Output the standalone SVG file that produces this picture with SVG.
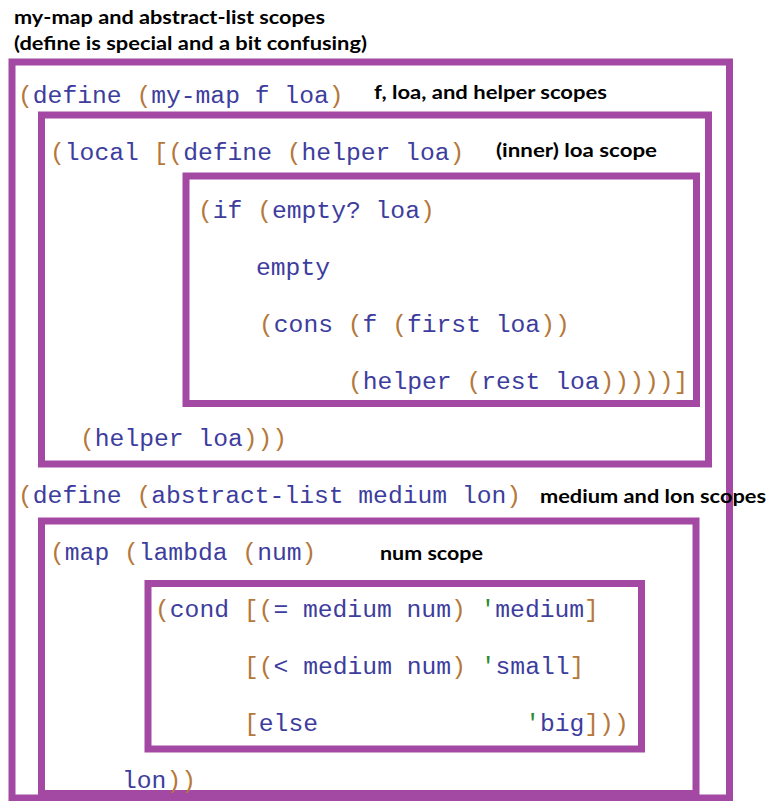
<svg xmlns="http://www.w3.org/2000/svg" width="769" height="801" viewBox="0 0 769 801">
<style>
  .box { fill: none; stroke: #a349a4; stroke-width: 7; }
  .code { font-family: "Liberation Mono", "Courier New", monospace; font-size: 24.67px; fill: #3d3d9e; white-space: pre; }
  .p { fill: #b5783a; }
  .q { fill: #2e8b2e; }
  .lbl { font-family: Lato, "Open Sans", "Liberation Sans", sans-serif; font-weight: bold; font-size: 18px; fill: #000; }
</style>
<rect width="769" height="801" fill="#fff"/>

<g id="title">
  <text class="lbl" x="14" y="24" textLength="311" lengthAdjust="spacingAndGlyphs">my-map and abstract-list scopes</text>
  <text class="lbl" x="14" y="50" textLength="353" lengthAdjust="spacingAndGlyphs">(define is special and a bit confusing)</text>
</g>

<g id="scope-my-map">
  <rect class="box" x="12" y="62" width="717.5" height="736"/>
  <text class="code" x="18" y="103"><tspan class="p">(</tspan>define <tspan class="p">(</tspan>my-map f loa<tspan class="p">)</tspan></text>
  <text class="lbl" x="374" y="99" textLength="233" lengthAdjust="spacingAndGlyphs">f, loa, and helper scopes</text>
  <text class="code" x="18" y="503"><tspan class="p">(</tspan>define <tspan class="p">(</tspan>abstract-list medium lon<tspan class="p">)</tspan></text>
  <text class="lbl" x="540" y="503" textLength="226" lengthAdjust="spacingAndGlyphs">medium and lon scopes</text>
</g>

<g id="scope-local">
  <rect class="box" x="41.5" y="115" width="667" height="349"/>
  <text class="code" x="50" y="160"><tspan class="p">(</tspan>local <tspan class="p">[(</tspan>define <tspan class="p">(</tspan>helper loa<tspan class="p">)</tspan></text>
  <text class="lbl" x="496" y="157" textLength="161" lengthAdjust="spacingAndGlyphs">(inner) loa scope</text>
  <text class="code" x="80" y="446"><tspan class="p">(</tspan>helper loa<tspan class="p">)))</tspan></text>
</g>

<g id="scope-helper">
  <rect class="box" x="186" y="176" width="510.5" height="227.5"/>
  <text class="code" x="198" y="218"><tspan class="p">(</tspan>if <tspan class="p">(</tspan>empty? loa<tspan class="p">)</tspan></text>
  <text class="code" x="256" y="275">empty</text>
  <text class="code" x="259" y="332"><tspan class="p">(</tspan>cons <tspan class="p">(</tspan>f <tspan class="p">(</tspan>first loa<tspan class="p">))</tspan></text>
  <text class="code" x="348" y="389"><tspan class="p">(</tspan>helper <tspan class="p">(</tspan>rest loa<tspan class="p">)))))]</tspan></text>
</g>

<g id="scope-map">
  <rect class="box" x="41.5" y="521" width="654.5" height="272.5"/>
  <text class="code" x="50" y="560"><tspan class="p">(</tspan>map <tspan class="p">(</tspan>lambda <tspan class="p">(</tspan>num<tspan class="p">)</tspan></text>
  <text class="lbl" x="380" y="560" textLength="103" lengthAdjust="spacingAndGlyphs">num scope</text>
  <text class="code" x="122" y="788">lon<tspan class="p">))</tspan></text>
</g>

<g id="scope-num">
  <rect class="box" x="148" y="583.5" width="493.5" height="165.5"/>
  <text class="code" x="155" y="617"><tspan class="p">(</tspan>cond <tspan class="p">[(</tspan>= medium num<tspan class="p">)</tspan> <tspan class="q">'</tspan>medium<tspan class="p">]</tspan></text>
  <text class="code" x="244" y="674"><tspan class="p">[(</tspan>&lt; medium num<tspan class="p">)</tspan> <tspan class="q">'</tspan>small<tspan class="p">]</tspan></text>
  <text class="code" x="244" y="731"><tspan class="p">[</tspan>else              <tspan class="q">'</tspan>big<tspan class="p">]))</tspan></text>
</g>
</svg>
